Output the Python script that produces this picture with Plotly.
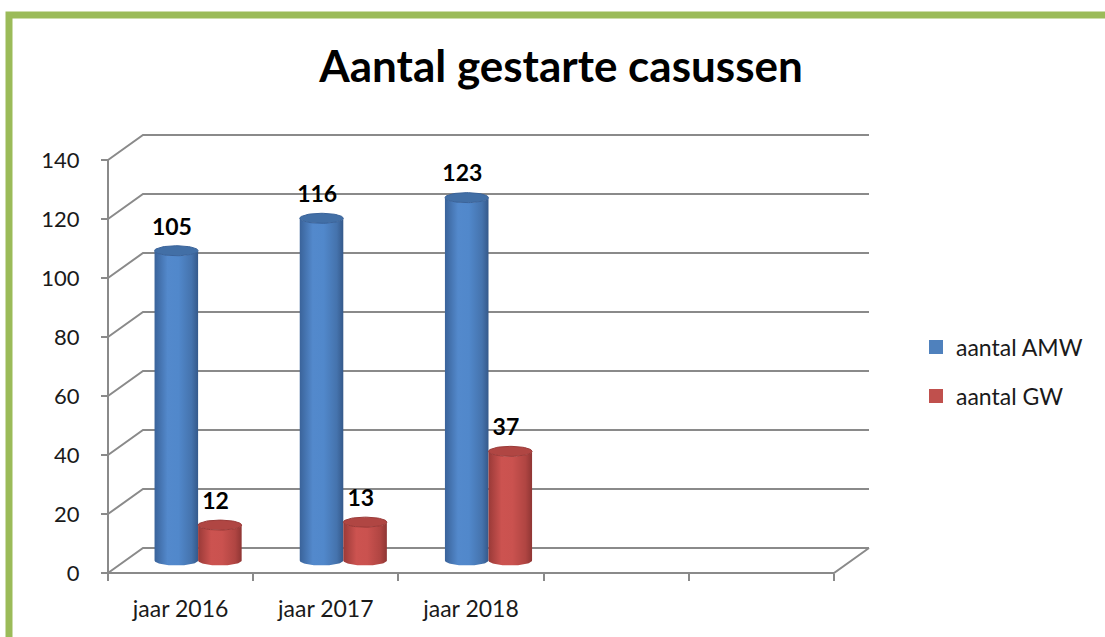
import numpy as np
import plotly.graph_objects as go

# ---------------- data ----------------
categories = ["jaar 2016", "jaar 2017", "jaar 2018", "", ""]
series_names = ["aantal AMW", "aantal GW"]
amw_values = [105, 116, 123]
gw_values = [12, 13, 37]
y_ticks = [0, 20, 40, 60, 80, 100, 120, 140]

# ---------------- styling / geometry constants ----------------
W, H = 1105, 637
PX_CAT = 145.2          # pixels per category slot
PX_UNIT = 2.95          # pixels per value unit
X0_PX, Y0_PX = 108, 573 # front-plane origin (pixels)
DEPTH_X = 35 / PX_CAT   # depth offset (category units)
DEPTH_Y = 25 / PX_UNIT  # depth offset (value units)
BAR_W = 0.3
ELL_B = 5 / PX_UNIT

ML, MR, MT, MB = 94, 227, 130, 55
xmin = (ML - X0_PX) / PX_CAT
xmax = (W - MR - X0_PX) / PX_CAT
ymax = (Y0_PX - MT) / PX_UNIT
ymin = (Y0_PX - (H - MB)) / PX_UNIT

GRID = "#8a8a8a"
FONT = "Lato, 'Open Sans', sans-serif"
n_cat = len(categories)

blue = dict(scale=[[0, "#3a639a"], [0.3, "#5389cc"], [0.55, "#5188cb"], [0.85, "#4573ad"], [1, "#35598a"]],
            cap="#426fa6", line="#3a639a")
red = dict(scale=[[0, "#9a3a38"], [0.3, "#cc5350"], [0.55, "#ca524f"], [0.85, "#b04542"], [1, "#8f3634"]],
           cap="#b04643", line="#9a3a38")

fig = go.Figure()

# ---------------- wall / floor gridlines ----------------
back_end = n_cat + DEPTH_X
for v in y_ticks:
    fig.add_trace(go.Scatter(
        x=[0, DEPTH_X, back_end], y=[v, v + DEPTH_Y, v + DEPTH_Y],
        mode="lines", line=dict(color=GRID, width=2),
        hoverinfo="skip", showlegend=False))
# front vertical axis line
fig.add_trace(go.Scatter(x=[0, 0], y=[0, y_ticks[-1]], mode="lines",
                         line=dict(color=GRID, width=2), hoverinfo="skip", showlegend=False))
# floor front edge and right diagonal
fig.add_trace(go.Scatter(x=[0, n_cat, n_cat + DEPTH_X], y=[0, 0, DEPTH_Y], mode="lines",
                         line=dict(color=GRID, width=2), hoverinfo="skip", showlegend=False))

# ---------------- cylinders ----------------
def cylinder(cx, value, style):
    a = BAR_W / 2
    y0 = DEPTH_Y / 2
    y1 = y0 + value
    th_bot = np.linspace(np.pi, 2 * np.pi, 40)
    th_top = np.linspace(0, -np.pi, 40)
    xs = list(cx + a * np.cos(th_bot)) + [cx + a] + list(cx + a * np.cos(th_top)) + [cx - a]
    ys = list(y0 + ELL_B * np.sin(th_bot)) + [y1] + list(y1 + ELL_B * np.sin(th_top)) + [y0]
    fig.add_trace(go.Scatter(
        x=xs, y=ys, mode="lines", fill="toself", line=dict(width=0, color=style["line"]),
        fillgradient=dict(type="horizontal", colorscale=style["scale"], start=cx - a, stop=cx + a),
        hoverinfo="skip", showlegend=False))
    th = np.linspace(0, 2 * np.pi, 60)
    fig.add_trace(go.Scatter(
        x=cx + a * np.cos(th), y=y1 + ELL_B * np.sin(th), mode="lines", fill="toself",
        fillcolor=style["cap"], line=dict(width=1, color=style["line"]),
        hoverinfo="skip", showlegend=False))

label_x, label_y, label_t = [], [], []
for i in range(len(amw_values)):
    for s, (vals, style) in enumerate([(amw_values, blue), (gw_values, red)]):
        cx = i + 0.5 + (-0.15 if s == 0 else 0.15) + DEPTH_X / 2
        cylinder(cx, vals[i], style)
        label_x.append(cx - 0.03)
        label_y.append(DEPTH_Y / 2 + vals[i] + 22 / PX_UNIT)
        label_t.append(str(vals[i]))

fig.add_trace(go.Scatter(x=label_x, y=label_y, text=label_t, mode="text",
                         textfont=dict(family=FONT, size=23, color="#000000", weight="bold"),
                         textposition="middle center", hoverinfo="skip",
                         showlegend=False, cliponaxis=False))

# ---------------- legend entries ----------------
for name, col, lg in [(series_names[0], "#4f81bd", "legend"), (series_names[1], "#c0504d", "legend2")]:
    fig.add_trace(go.Scatter(x=[None], y=[None], mode="markers", name=name,
                             marker=dict(symbol="square", size=14, color=col),
                             legend=lg, showlegend=True))

legend_common = dict(xref="container", yref="container", xanchor="left", yanchor="middle",
                     bgcolor="rgba(0,0,0,0)", font=dict(family=FONT, size=23, color="#1a1a1a"),
                     itemsizing="trace")

fig.update_layout(
    width=W, height=H,
    margin=dict(l=ML, r=MR, t=MT, b=MB, pad=0),
    paper_bgcolor="white", plot_bgcolor="white",
    title=dict(text="<b>Aantal gestarte casussen</b>", x=561 / W, xanchor="center",
               y=1 - 67 / H, yanchor="middle", xref="container", yref="container",
               font=dict(family=FONT, size=44, color="#000000")),
    xaxis=dict(range=[xmin, xmax], tickmode="array",
               tickvals=[i + 0.5 for i in range(n_cat)], ticktext=categories,
               ticks="", showgrid=False, zeroline=False, showline=False,
               anchor="free", position=(H - MB - Y0_PX) / (H - MT - MB),
               tickfont=dict(family=FONT, size=23, color="#1a1a1a"),
               ticklabelstandoff=20,
               minor=dict(tickmode="array", tickvals=list(range(n_cat + 1)), ticks="outside",
                          ticklen=7, tickwidth=2, tickcolor=GRID, showgrid=False)),
    yaxis=dict(range=[ymin, ymax], tickmode="array", tickvals=y_ticks,
               ticks="outside", ticklen=7, tickwidth=2, tickcolor=GRID,
               showgrid=False, zeroline=False, showline=False,
               anchor="free", position=(X0_PX - ML) / (W - ML - MR),
               tickfont=dict(family=FONT, size=22, color="#1a1a1a"),
               ticklabelstandoff=17),
    legend=dict(x=916 / W, y=1 - 347 / H, **legend_common),
    legend2=dict(x=916 / W, y=1 - 396 / H, **legend_common),
    shapes=[dict(type="path", xref="paper", yref="paper",
                 path="M {x0},{y1} L {x0},{y0} L {x1},{y0}".format(
                     x0=(9 - ML) / (W - ML - MR), x1=(W + 20 - ML) / (W - ML - MR),
                     y0=(H - MB - 15) / (H - MT - MB), y1=(H - MB - (H + 20)) / (H - MT - MB)),
                 line=dict(color="#9bbb59", width=7))],
)

fig.write_html("out.html", config={"displayModeBar": False},
               post_script="document.body.style.margin='0';document.body.style.overflow='hidden';")
